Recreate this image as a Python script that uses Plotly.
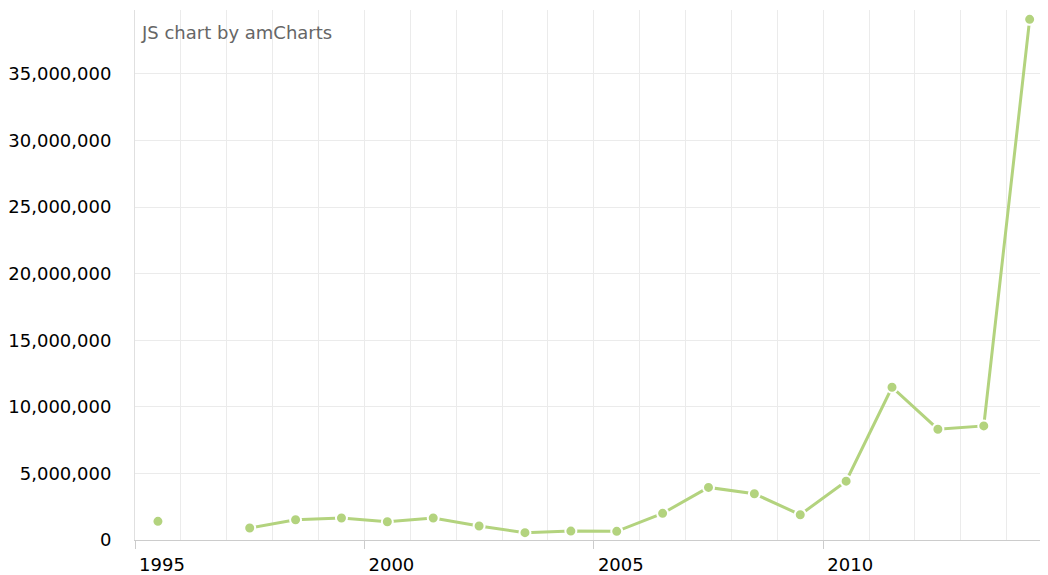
import plotly.graph_objects as go

years = list(range(1995, 2015))
values = [1400000, None, 900000, 1520000, 1650000, 1370000, 1650000, 1050000,
          550000, 670000, 650000, 2000000, 3950000, 3470000, 1900000, 4420000,
          11470000, 8320000, 8570000, 39100000]
x_positions = [y + 0.5 for y in years]
x_tick_vals = [1995, 2000, 2005, 2010]
x_tick_text = ["1995", "2000", "2005", "2010"]
y_tick_vals = [0, 5e6, 10e6, 15e6, 20e6, 25e6, 30e6, 35e6]
y_tick_text = ["0", "5,000,000", "10,000,000", "15,000,000", "20,000,000",
               "25,000,000", "30,000,000", "35,000,000"]

GREEN = "#b3d37e"
GRID = "#ebebeb"
FONT = "DejaVu Sans"

fig = go.Figure()
fig.add_trace(go.Scatter(
    x=x_positions, y=values, mode="lines+markers", connectgaps=False,
    line=dict(color=GREEN, width=3),
    marker=dict(color=GREEN, size=11, line=dict(color="white", width=2)),
    hoverinfo="skip", showlegend=False,
))

# page body has an 8px default margin, so the figure is 8px smaller and offset
fig.update_layout(
    width=1040, height=567,
    margin=dict(l=125, r=0, t=2, b=26),
    paper_bgcolor="white", plot_bgcolor="white",
    font=dict(family=FONT, size=18, color="#000000"),
    xaxis=dict(
        range=[1995, 2014.9],
        tickvals=x_tick_vals, ticktext=x_tick_text,
        ticks="outside", ticklen=8, tickcolor="#cccccc", tickwidth=1,
        ticklabelshift=27, ticklabelstandoff=0,
        showgrid=True, gridcolor=GRID, gridwidth=1,
        minor=dict(dtick=1, tick0=1995, showgrid=True, gridcolor=GRID, ticks=""),
        showline=True, linecolor="#cccccc", linewidth=1,
        zeroline=False,
        tickfont=dict(family=FONT, size=18, color="#000000"),
    ),
    yaxis=dict(
        range=[0, 39.8e6],
        tickvals=y_tick_vals, ticktext=y_tick_text,
        ticks="", ticklabelstandoff=19,
        showgrid=True, gridcolor=GRID, gridwidth=1,
        showline=True, linecolor="#e0e0e0", linewidth=1,
        zeroline=False,
        tickfont=dict(family=FONT, size=18, color="#000000"),
    ),
    annotations=[dict(
        text="JS chart by amCharts", xref="paper", yref="paper",
        x=0, y=1, xanchor="left", yanchor="top", xshift=4, yshift=-10,
        showarrow=False, font=dict(family=FONT, size=18, color="#666666"),
    )],
)

fig.write_html("out.html")
